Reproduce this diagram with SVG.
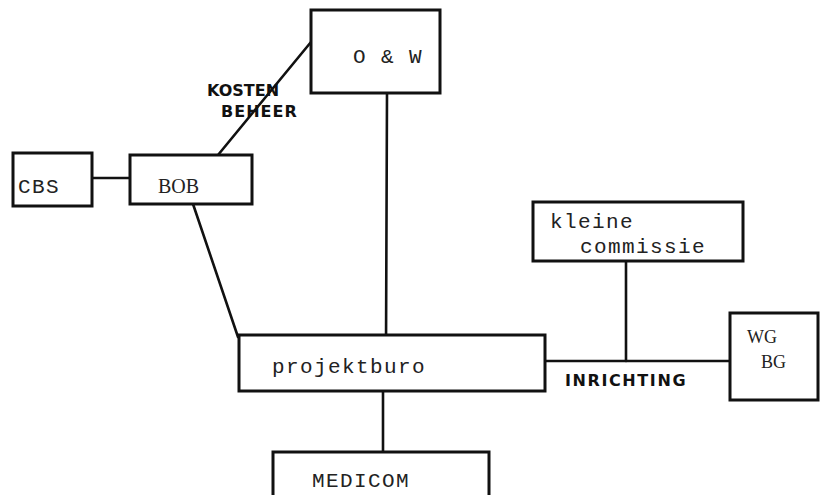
<svg xmlns="http://www.w3.org/2000/svg" width="823" height="495" viewBox="0 0 823 495">
<style>
.box{fill:#fff;stroke:#111;stroke-width:3}
.ln{stroke:#111;stroke-width:2.6;fill:none;stroke-linecap:round}
.tw{font-family:"Liberation Mono","DejaVu Sans Mono",monospace;font-size:21px;letter-spacing:1.4px;fill:#222}
.sf{font-family:"Liberation Serif",serif;font-size:18px;fill:#222}
.hw{font-family:"DejaVu Sans",sans-serif;font-size:16px;font-weight:bold;fill:#111;letter-spacing:0px}
</style>
<rect width="823" height="495" fill="#fff"/>
<g id="connectors">
<line class="ln" x1="92" y1="178" x2="130" y2="178"/>
<line class="ln" x1="218" y1="155" x2="311" y2="42"/>
<line class="ln" x1="193" y1="204" x2="238" y2="337"/>
<line class="ln" x1="387" y1="93" x2="386" y2="348"/>
<line class="ln" x1="383" y1="391" x2="383" y2="452"/>
<line class="ln" x1="626" y1="261" x2="626" y2="361"/>
<line class="ln" x1="545" y1="361" x2="730" y2="361"/>
<text class="hw" x="207" y="96">KOSTEN</text>
<text class="hw" x="221" y="117" style="letter-spacing:1px">BEHEER</text>
<text class="hw" x="565" y="386" style="letter-spacing:1.6px">INRICHTING</text>
</g>
<g id="cbs">
<rect class="box" x="13" y="153" width="79" height="53"/>
<text class="tw" x="18" y="193">CBS</text>
</g>
<g id="bob">
<rect class="box" x="130" y="155" width="122" height="49"/>
<text class="sf" x="158" y="193" style="font-size:20px">BOB</text>
</g>
<g id="ow">
<rect class="box" x="311" y="10" width="129" height="83"/>
<text class="tw" x="353" y="63">O &amp; W</text>
</g>
<g id="projektburo">
<rect class="box" x="239" y="335" width="306" height="56"/>
<text class="tw" x="272" y="373">projektburo</text>
</g>
<g id="medicom">
<rect class="box" x="273" y="452" width="216" height="50"/>
<text class="tw" x="312" y="487">MEDICOM</text>
</g>
<g id="kleine-commissie">
<rect class="box" x="533" y="202" width="210" height="59"/>
<text class="tw" x="550" y="228">kleine</text>
<text class="tw" x="580" y="253">commissie</text>
</g>
<g id="wgbg">
<rect class="box" x="730" y="313" width="88" height="87"/>
<text class="sf" x="747" y="343">WG</text>
<text class="sf" x="761" y="368">BG</text>
</g>
</svg>
